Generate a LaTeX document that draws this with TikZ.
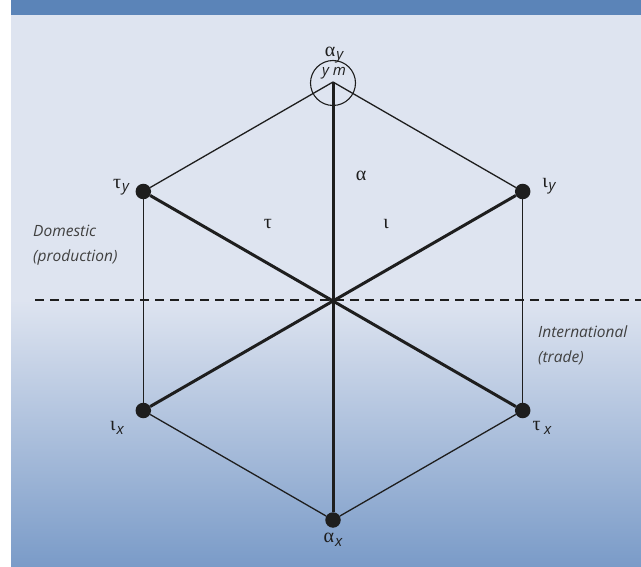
\documentclass[tikz,border=0pt]{standalone}
\usepackage{fontspec}
\setmainfont{Open Sans}
\newfontfamily\greekfont{Liberation Serif}
\definecolor{hdr}{HTML}{5B84B8}
\definecolor{bgtop}{HTML}{DEE4F0}
\definecolor{bgbot}{HTML}{7A9BC8}
\definecolor{ink}{HTML}{1E1E1E}
\newcommand{\glab}[2]{{\greekfont\fontsize{20}{20}\selectfont #1}\kern1pt\raisebox{-3.5pt}{\itshape\fontsize{15}{15}\selectfont #2}}
\tikzset{
  vdot/.style={circle,fill=ink,inner sep=0pt,minimum size=15.5pt},
  thinedge/.style={draw=ink,line width=1.3pt},
  thickedge/.style={draw=ink,line width=3pt},
  lbl/.style={inner sep=0pt,text=ink},
  side/.style={inner sep=0pt,anchor=west,align=left,text=ink!85,font=\itshape\fontsize{15.5}{25}\selectfont},
  sector/.style={inner sep=0pt,text=ink,font=\greekfont\fontsize{20}{20}\selectfont}
}
\begin{document}
\begin{tikzpicture}[x=1pt,y=-1pt]
\useasboundingbox (0,0) rectangle (641,567);
\fill[white] (0,0) rectangle (641,567);
\fill[hdr] (11,0) rectangle (641,15.5);
\fill[bgtop] (11,15.5) rectangle (641,300);
\shade[top color=bgtop,bottom color=bgbot] (11,300) rectangle (641,567);

% dashed divider
\coordinate (dl) at (35,300);
\coordinate (dr) at (641,300);
\draw[ink,line width=1.2pt,dash pattern=on 9pt off 6pt] (dl) -- (dr);

% vertices
\coordinate (ay) at (333,82);
\node[vdot] (ty) at (143.3,191.5) {};
\node[vdot] (iy) at (522.7,191.5) {};
\node[vdot] (ix) at (143.3,410.5) {};
\node[vdot] (tx) at (522.7,410.5) {};
\node[vdot] (ax) at (333,520) {};

% hexagon edges
\path[thinedge] (ay) -- (ty);
\path[thinedge] (ay) -- (iy);
\path[thinedge] (ty) -- (ix);
\path[thinedge] (iy) -- (tx);
\path[thinedge] (ix) -- (ax);
\path[thinedge] (tx) -- (ax);

% diagonals
\path[thickedge] (ay) -- (ax);
\path[thickedge] (ty) -- (tx);
\path[thickedge] (iy) -- (ix);

% ring at top vertex
\node[circle,draw=ink,line width=1.1pt,minimum size=45pt,inner sep=0pt] (ring) at (333,83) {};
\node[lbl,font=\itshape\fontsize{15}{15}\selectfont] (ym) at (334,73) {y\kern4pt m};

% vertex labels
\node[lbl] (lay) at (334,55) {\glab{α}{y}};
\node[lbl] (lty) at (121,187) {\glab{τ}{y}};
\node[lbl] (liy) at (549,186) {\glab{ι}{y}};
\node[lbl] (lix) at (117,428) {\glab{ι}{x}};
\node[lbl] (ltx) at (542,428) {\glab{τ}{\,x}};
\node[lbl] (lax) at (333,540) {\glab{α}{x}};

% sector labels
\node[sector] (sa) at (361,176) {α};
\node[sector] (st) at (268,224) {τ};
\node[sector] (si) at (386,224) {ι};

% side labels
\node[side] (dom) at (33,245) {Domestic\\(production)};
\node[side] (intl) at (538,345) {International\\(trade)};
\end{tikzpicture}
\end{document}
